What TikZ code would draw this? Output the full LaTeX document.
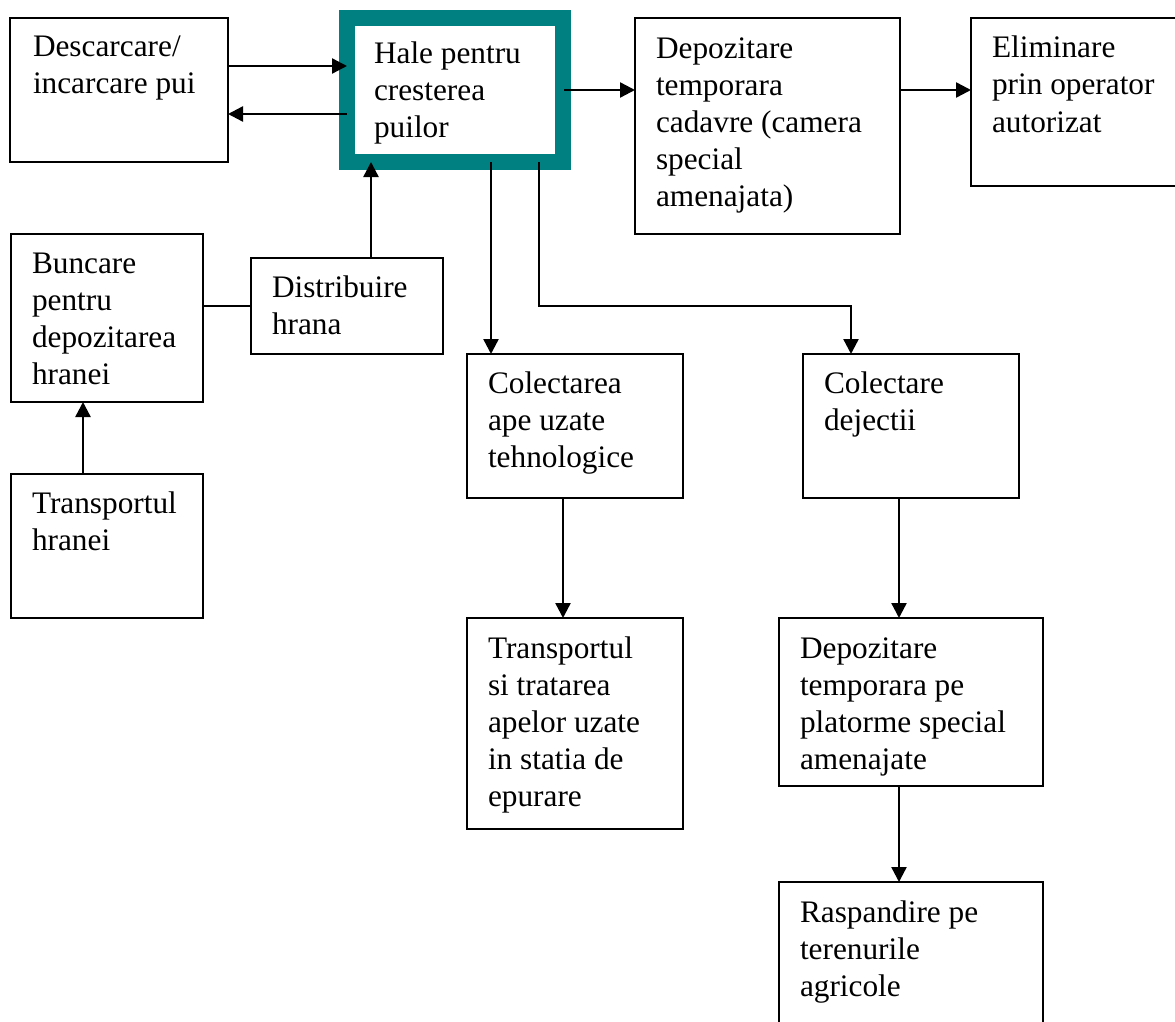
\documentclass[tikz,border=0pt]{standalone}
\usepackage{fontspec}
\setmainfont{Liberation Serif}
\usetikzlibrary{arrows.meta,calc}
\definecolor{halecol}{RGB}{0,128,128}
\begin{document}
\begin{tikzpicture}[x=1pt,y=-1pt,
  box/.style={draw,line width=2.2pt,inner sep=0pt,outer sep=0pt,anchor=north west},
  txt/.style={anchor=north west,inner sep=0pt,outer sep=0pt,align=left,
    font=\fontsize{31.3}{37}\selectfont},
  conn/.style={line width=2.4pt},
  arr/.style={conn,-{Triangle[length=15pt,width=15pt]}}]
\useasboundingbox (0,0) rectangle (1175,1022);
\clip (0,0) rectangle (1175,1022);
% boxes
\node[box,minimum width=218pt,minimum height=144pt] (desc) at (10,18) {};
\node[draw=halecol,line width=16pt,inner sep=0pt,outer sep=0pt,minimum width=216pt,minimum height=144pt] (hale) at (455,90) {};
\node[box,minimum width=265pt,minimum height=216pt] (depo) at (635,18) {};
\node[box,minimum width=230pt,minimum height=168pt] (elim) at (971,18) {};
\node[box,minimum width=192pt,minimum height=168pt] (bunc) at (11,234) {};
\node[box,minimum width=192pt,minimum height=96pt] (dist) at (251,258) {};
\node[box,minimum width=192pt,minimum height=144pt] (trh) at (11,474) {};
\node[box,minimum width=216pt,minimum height=144pt] (cola) at (467,354) {};
\node[box,minimum width=216pt,minimum height=144pt] (cold) at (803,354) {};
\node[box,minimum width=216pt,minimum height=211pt] (tsi) at (467,618) {};
\node[box,minimum width=264pt,minimum height=168pt] (dpl) at (779,618) {};
\node[box,minimum width=264pt,minimum height=170pt] (rasp) at (779,882) {};
% texts
\node[txt] (tdesc) at ([xshift=23pt]desc.north west) {\rule{0pt}{39pt}Descarcare/\\incarcare pui};
\node[txt] (thale) at ([xshift=27pt]hale.north west) {\rule{0pt}{46pt}Hale pentru\\cresterea\\puilor};
\node[txt] (tdepo) at ([xshift=21pt]depo.north west) {\rule{0pt}{40pt}Depozitare\\temporara\\cadavre (camera\\special\\amenajata)};
\node[txt] (telim) at ([xshift=21pt]elim.north west) {\rule{0pt}{40pt}Eliminare\\prin operator\\autorizat};
\node[txt] (tbunc) at ([xshift=21pt]bunc.north west) {\rule{0pt}{39pt}Buncare\\pentru\\depozitarea\\hranei};
\node[txt] (tdist) at ([xshift=21pt]dist.north west) {\rule{0pt}{39pt}Distribuire\\hrana};
\node[txt] (ttrh) at ([xshift=21pt]trh.north west) {\rule{0pt}{39pt}Transportul\\hranei};
\node[txt] (tcola) at ([xshift=21pt]cola.north west) {\rule{0pt}{39pt}Colectarea\\ape uzate\\tehnologice};
\node[txt] (tcold) at ([xshift=21pt]cold.north west) {\rule{0pt}{39pt}Colectare\\dejectii};
\node[txt] (ttsi) at ([xshift=21pt]tsi.north west) {\rule{0pt}{40pt}Transportul\\si tratarea\\apelor uzate\\in statia de\\epurare};
\node[txt] (tdpl) at ([xshift=21pt]dpl.north west) {\rule{0pt}{40pt}Depozitare\\temporara pe\\platorme special\\amenajate};
\node[txt] (trasp) at ([xshift=21pt]rasp.north west) {\rule{0pt}{40pt}Raspandire pe\\terenurile\\agricole};
% connectors
\draw[arr] ([yshift=-48pt]desc.north east) -- ([yshift=-48pt]hale.north west);
\draw[arr] ([yshift=-96pt]hale.north west) -- ([yshift=-96pt]desc.north east);
\draw[arr] ([xshift=1pt]hale.east) -- (hale.east -| depo.west);
\draw[arr] (depo.east |- hale.east) -- (elim.west |- hale.east);
\draw[conn] (dist.west) -- (dist.west -| bunc.east);
\draw[arr] ([xshift=120pt]dist.north west) -- ([xshift=120pt]dist.north west |- hale.south);
\draw[arr] ([xshift=72pt]trh.north west) -- ([xshift=72pt]trh.north west |- bunc.south);
\draw[arr] ([xshift=144pt]hale.south west) -- ([xshift=144pt]hale.south west |- cola.north);
\coordinate (turn) at ([xshift=192pt]hale.south west |- dist.west);
\draw[arr] ([xshift=192pt]hale.south west) -- (turn) -| ([xshift=48pt]cold.north west);
\draw[arr] ([xshift=96pt]cola.south west) -- ([xshift=96pt]cola.south west |- tsi.north);
\draw[arr] ([xshift=96pt]cold.south west) -- ([xshift=96pt]cold.south west |- dpl.north);
\draw[arr] ([xshift=120pt]dpl.south west) -- ([xshift=120pt]dpl.south west |- rasp.north);
\end{tikzpicture}
\end{document}
